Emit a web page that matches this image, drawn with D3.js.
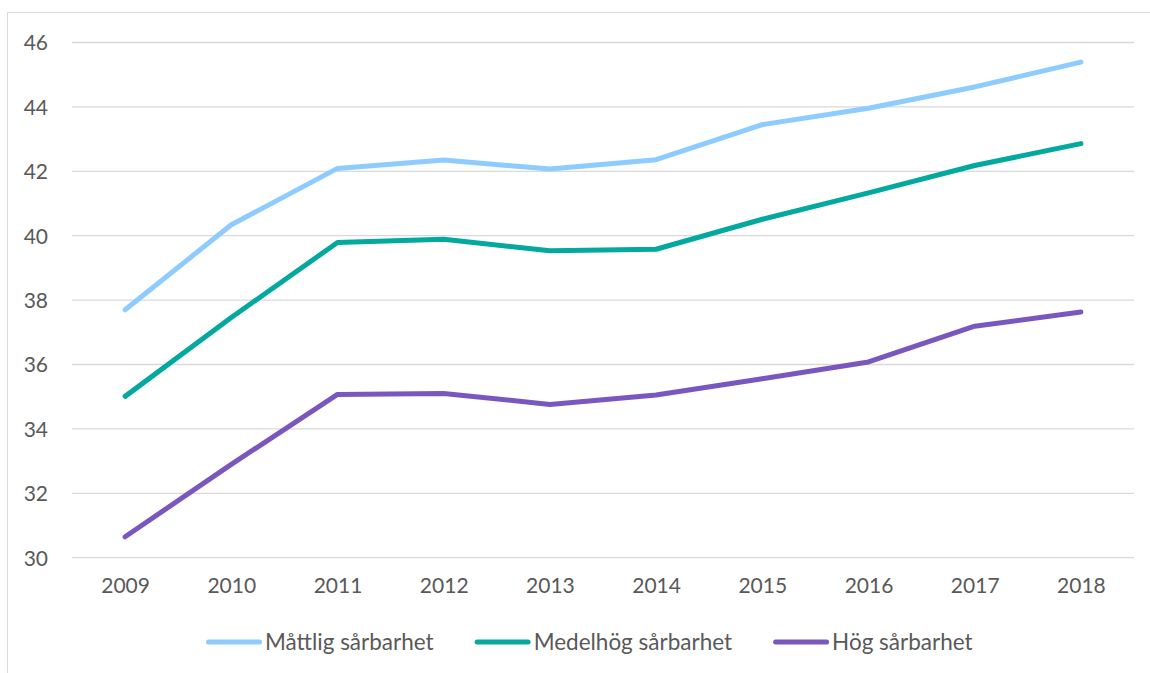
<!DOCTYPE html>
<html>
<head>
<meta charset="utf-8">
<script src="https://cdn.jsdelivr.net/npm/d3@7"></script>
<style>
  html, body { margin: 0; padding: 0; background: #fff; }
  svg { display: block; }
  text { font-family: Lato, "Open Sans", sans-serif; fill: #595959; }
</style>
</head>
<body>
<svg id="chart" width="1150" height="673"></svg>
<script>
const years = ["2009","2010","2011","2012","2013","2014","2015","2016","2017","2018"];
const mattlig  = [37.70, 40.34, 42.09, 42.35, 42.07, 42.36, 43.45, 43.96, 44.62, 45.39];
const medelhog = [35.01, 37.46, 39.79, 39.89, 39.53, 39.58, 40.51, 41.33, 42.18, 42.86];
const hog      = [30.65, 32.90, 35.07, 35.10, 34.76, 35.05, 35.56, 36.08, 37.19, 37.63];
const seriesNames = ["Måttlig sårbarhet", "Medelhög sårbarhet", "Hög sårbarhet"];
const seriesColors = ["#8ECBFF", "#03A89E", "#7A57BF"];
const yTicks = [30, 32, 34, 36, 38, 40, 42, 44, 46];

const series = [mattlig, medelhog, hog].map((v, i) => ({ name: seriesNames[i], color: seriesColors[i], values: v }));

const svg = d3.select("#chart");

// outer border
svg.append("rect")
  .attr("x", 7.5).attr("y", 12.5)
  .attr("width", 1200).attr("height", 700)
  .attr("fill", "none").attr("stroke", "#d9d9d9").attr("stroke-width", 1);

const x = d3.scalePoint().domain(years).range([72, 1134]).padding(0.5);
const y = d3.scaleLinear().domain([30, 46]).range([557.7, 42.5]);

// gridlines
svg.append("g").selectAll("line").data(yTicks).join("line")
  .attr("x1", 72).attr("x2", 1134)
  .attr("y1", d => y(d)).attr("y2", d => y(d))
  .attr("stroke", "#d9d9d9").attr("stroke-width", 1.3);

// y axis labels
const yAxis = d3.axisLeft(y).tickValues(yTicks).tickSize(0).tickPadding(0);
const gy = svg.append("g").attr("transform", "translate(48,0)").call(yAxis);
gy.select(".domain").remove();
gy.selectAll("text").attr("font-size", 21).attr("fill", "#595959")
  .style("font-family", "Lato, 'Open Sans', sans-serif").attr("dy", "0.35em");

// x axis labels
const xAxis = d3.axisBottom(x).tickSize(0).tickPadding(0);
const gx = svg.append("g").attr("transform", "translate(0,578)").call(xAxis);
gx.select(".domain").remove();
gx.selectAll("text").attr("font-size", 21).attr("fill", "#595959")
  .style("font-family", "Lato, 'Open Sans', sans-serif").attr("dy", "0.71em");

// lines
const line = d3.line().x((d, i) => x(years[i])).y(d => y(d));
svg.append("g").selectAll("path").data(series).join("path")
  .attr("d", d => line(d.values))
  .attr("fill", "none")
  .attr("stroke", d => d.color)
  .attr("stroke-width", 5)
  .attr("stroke-linecap", "round")
  .attr("stroke-linejoin", "round");

// legend
const legend = svg.append("g").attr("transform", "translate(206,642)");
const items = legend.selectAll("g").data(series).join("g");
items.append("line")
  .attr("x1", 2.5).attr("x2", 53.5).attr("y1", 0).attr("y2", 0)
  .attr("stroke", d => d.color).attr("stroke-width", 5).attr("stroke-linecap", "round");
items.append("text")
  .attr("x", 59).attr("y", 0).attr("dy", "0.35em")
  .attr("font-size", 22.5).attr("fill", "#595959")
  .text(d => d.name);
const gap = 41;
let cx = 0;
items.each(function () {
  const g = d3.select(this);
  g.attr("transform", `translate(${cx},0)`);
  const w = g.select("text").node().getComputedTextLength();
  cx += 59 + w + gap;
});
</script>
</body>
</html>
